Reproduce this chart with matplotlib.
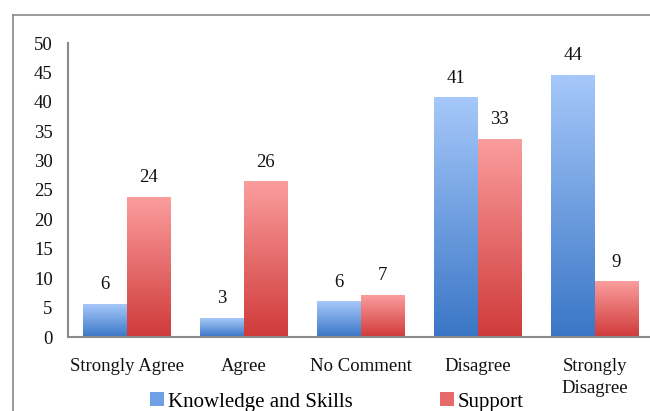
import numpy as np
import matplotlib
matplotlib.use("Agg")
import matplotlib.pyplot as plt
from matplotlib.colors import LinearSegmentedColormap
from matplotlib.patches import Patch

categories = ["Strongly Agree", "Agree", "No Comment", "Disagree", "Strongly\nDisagree"]
knowledge = [5.6, 3.2, 6.0, 40.7, 44.5]
support = [23.8, 26.4, 7.1, 33.6, 9.4]
knowledge_labels = ["6", "3", "6", "41", "44"]
support_labels = ["24", "26", "7", "33", "9"]
y_ticks = [0, 5, 10, 15, 20, 25, 30, 35, 40, 45, 50]

plt.rcParams['font.family'] = ['Liberation Serif', 'DejaVu Serif']

blue_cmap = LinearSegmentedColormap.from_list("b", ["#3a76c6", "#a6c8fa"])
red_cmap = LinearSegmentedColormap.from_list("r", ["#d03a3a", "#fb9d9d"])

fig = plt.figure(figsize=(6.5, 4.11), dpi=100)
ax = fig.add_axes([68 / 650, 74 / 411, 585 / 650, 294 / 411])

x = np.arange(len(categories))
w = 0.37
b1 = ax.bar(x - w / 2, knowledge, w, color="none")
b2 = ax.bar(x + w / 2, support, w, color="none")

# vertical gradient fill, Excel style
grad = np.linspace(0, 1, 256).reshape(-1, 1)
for bars, cmap in ((b1, blue_cmap), (b2, red_cmap)):
    for p in bars:
        x0, y0 = p.get_x(), p.get_y()
        ax.imshow(grad, cmap=cmap, origin="lower", aspect="auto",
                  extent=(x0, x0 + p.get_width(), y0, y0 + p.get_height()),
                  zorder=2)

for bars, labels in ((b1, knowledge_labels), (b2, support_labels)):
    for p, lab in zip(bars, labels):
        ax.annotate(lab, (p.get_x() + p.get_width() / 2, p.get_height()),
                    xytext=(0, 14), textcoords="offset points",
                    ha="center", va="center", fontsize=13.5, color="#111111")

ax.set_xlim(-0.5, len(categories) - 0.5)
ax.set_ylim(0, 50)
ax.set_yticks(y_ticks)
ax.set_xticks(x)
ax.set_xticklabels(categories, va="top", linespacing=1.4)
ax.tick_params(axis="both", length=0, labelsize=13.5, colors="#111111")
ax.tick_params(axis="y", pad=11)
ax.tick_params(axis="x", pad=15)
for s in ("top", "right"):
    ax.spines[s].set_visible(False)
for s in ("left", "bottom"):
    ax.spines[s].set_color("#8a8a8a")
    ax.spines[s].set_linewidth(1.5)

handles = [Patch(facecolor="#6f9fe4", edgecolor="none"),
           Patch(facecolor="#e76a6a", edgecolor="none")]
fig.legend(handles, ["Knowledge and Skills", "Support"], ncol=2,
           loc="center left", bbox_to_anchor=(150 / 650, 1 - 402 / 411),
           frameon=False, fontsize=15, handlelength=0.65, handleheight=0.65,
           handletextpad=0.2, columnspacing=4.2, borderpad=0, borderaxespad=0)

# outer frame (left and top edges visible)
fig.add_artist(plt.Line2D([13 / 650, 13 / 650], [0, 1 - 15 / 411],
                          transform=fig.transFigure, color="#8a8a8a", lw=1.2))
fig.add_artist(plt.Line2D([13 / 650, 1], [1 - 15 / 411, 1 - 15 / 411],
                          transform=fig.transFigure, color="#8a8a8a", lw=1.2))

fig.savefig("out.png", dpi=100)
